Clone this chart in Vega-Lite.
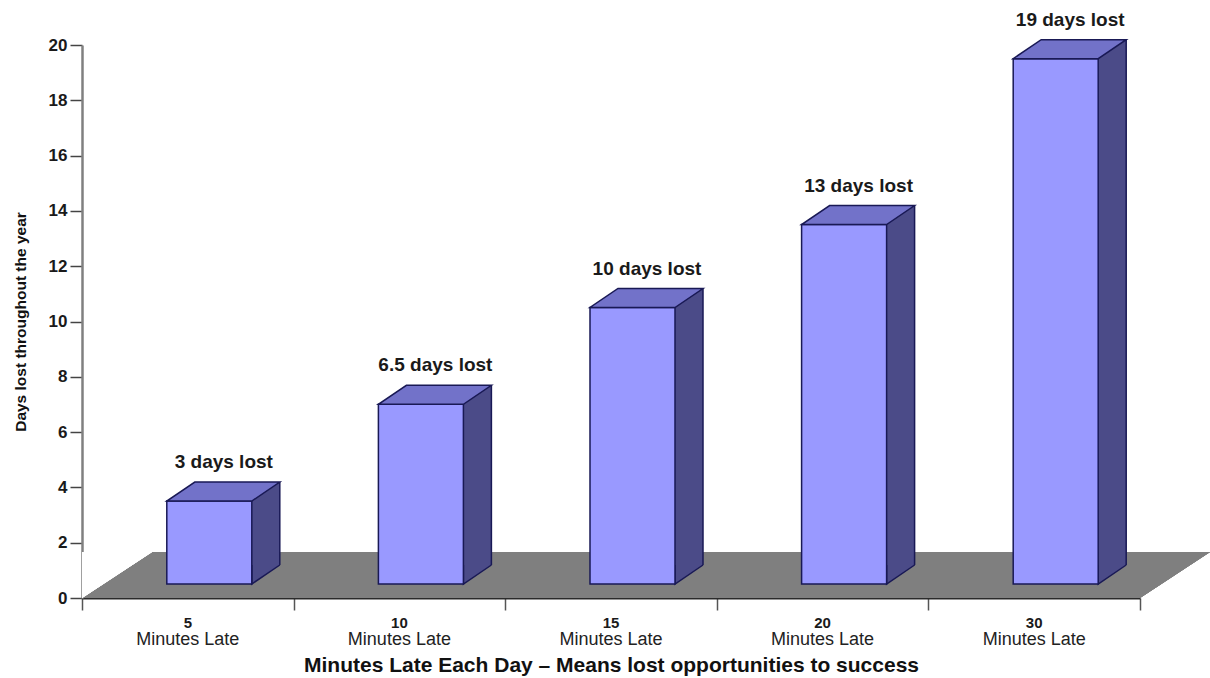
{
  "$schema": "https://vega.github.io/schema/vega-lite/v6.json",
  "width": 1058,
  "height": 553,
  "autosize": {"type": "none"},
  "padding": {"left": 82, "top": 45, "right": 70, "bottom": 80},
  "background": "white",
  "config": {
    "view": {"stroke": null},
    "font": "Liberation Sans",
    "axis": {"grid": false, "zindex": 1},
    "axisY": {
      "values": [0, 2, 4, 6, 8, 10, 12, 14, 16, 18, 20],
      "labelFontSize": 17, "labelFontWeight": "bold", "labelColor": "#1a1a1a", "labelPadding": 3,
      "tickSize": 12, "tickColor": "#444444", "tickWidth": 1.5,
      "domainColor": "#808080", "domainWidth": 2.5,
      "titleFontSize": 15.5, "titleFontWeight": "bold", "titleColor": "#111111", "titlePadding": 20
    }
  },
  "data": {
    "values": [
      {"minutes": 5, "days": 3, "label": "3 days lost", "sub": "Minutes Late"},
      {"minutes": 10, "days": 6.5, "label": "6.5 days lost", "sub": "Minutes Late"},
      {"minutes": 15, "days": 10, "label": "10 days lost", "sub": "Minutes Late"},
      {"minutes": 20, "days": 13, "label": "13 days lost", "sub": "Minutes Late"},
      {"minutes": 30, "days": 19, "label": "19 days lost", "sub": "Minutes Late"}
    ]
  },
  "layer": [
    {
      "layer": [
        {
          "mark": {"type": "rect", "fill": "#7f7f7f"},
          "encoding": {
            "x": {"datum": 0, "type": "quantitative", "scale": {"domain": [0, 5], "nice": false, "zero": false},
              "axis": {"orient": "bottom", "values": [0, 1, 2, 3, 4, 5], "labels": false, "domain": false, "ticks": true, "tickSize": 12, "tickColor": "#555555", "tickWidth": 1.5, "title": null}},
            "x2": {"datum": 5},
            "y": {"datum": 0, "type": "quantitative", "scale": {"domain": [0, 20], "nice": false},
              "axis": {"orient": "left", "title": "Days lost throughout the year"}},
            "y2": {"datum": 1.66}
          }
        },
        {
          "mark": {"type": "point", "shape": "M0,0 L70,0 L0,46 Z", "size": 4, "filled": true, "fill": "white", "opacity": 1, "strokeWidth": 0},
          "encoding": {
            "x": {"datum": 0, "type": "quantitative"},
            "y": {"datum": 1.66, "type": "quantitative"}
          }
        },
        {
          "mark": {"type": "point", "shape": "M0,0 L70,-46 L0,-46 Z", "size": 4, "filled": true, "fill": "#7f7f7f", "opacity": 1, "strokeWidth": 0},
          "encoding": {
            "x": {"datum": 5, "type": "quantitative"},
            "y": {"datum": 0, "type": "quantitative"}
          }
        }
      ]
    },
    {
      "encoding": {
        "x": {
          "field": "minutes", "type": "ordinal",
          "scale": {"paddingInner": 0, "paddingOuter": 0},
          "axis": {
            "orient": "bottom", "ticks": false, "tickSize": 0, "labelAngle": 0, "labelPadding": 17,
            "labelFontSize": 15, "labelFontWeight": "bold", "labelColor": "#1a1a1a",
            "domainColor": "#2a2a2a", "domainWidth": 2,
            "title": "Minutes Late Each Day – Means lost opportunities to success",
            "titleFontSize": 21, "titleFontWeight": "bold", "titleColor": "#111111", "titlePadding": 24
          }
        }
      },
      "layer": [
        {
          "mark": {"type": "bar", "width": 28, "xOffset": 78, "yOffset": -33, "y2Offset": -33, "fill": "#4b4b88", "strokeWidth": 0},
          "encoding": {
            "y": {"field": "days", "type": "quantitative", "stack": null},
            "y2": {"datum": 0}
          }
        },
        {
          "mark": {"type": "point", "shape": "M64,-33 L64,-14 L92,-33", "size": 4, "filled": true, "fill": "#4b4b88", "stroke": "#191955", "strokeWidth": 1.5, "opacity": 1},
          "encoding": {
            "y": {"datum": 0, "type": "quantitative"}
          }
        },
        {
          "mark": {"type": "rule", "xOffset": 92, "yOffset": -33, "y2Offset": -33, "stroke": "#191955", "strokeWidth": 1.5},
          "encoding": {
            "y": {"field": "days", "type": "quantitative"},
            "y2": {"datum": 0}
          }
        },
        {
          "mark": {"type": "bar", "width": 85, "xOffset": 21.5, "yOffset": -14, "y2Offset": -14, "fill": "#9999ff", "stroke": "#191955", "strokeWidth": 1.5},
          "encoding": {
            "y": {"field": "days", "type": "quantitative", "stack": null},
            "y2": {"datum": 0}
          }
        },
        {
          "mark": {"type": "point", "shape": "M-21,-14 L64,-14 L92,-33 L7,-33 Z", "size": 4, "filled": true, "fill": "#7272c9", "stroke": "#191955", "strokeWidth": 1.5, "opacity": 1},
          "encoding": {
            "y": {"field": "days", "type": "quantitative"}
          }
        },
        {
          "mark": {"type": "text", "dx": 36, "dy": -53, "baseline": "middle", "align": "center", "fontSize": 19, "fontWeight": "bold", "color": "#1a1a1a"},
          "encoding": {
            "y": {"field": "days", "type": "quantitative"},
            "text": {"field": "label"}
          }
        },
        {
          "mark": {"type": "text", "dy": 42, "baseline": "middle", "align": "center", "fontSize": 18, "color": "#222222"},
          "encoding": {
            "y": {"datum": 0, "type": "quantitative"},
            "text": {"field": "sub"}
          }
        }
      ]
    }
  ],
  "resolve": {"scale": {"x": "independent"}, "axis": {"x": "independent"}}
}
